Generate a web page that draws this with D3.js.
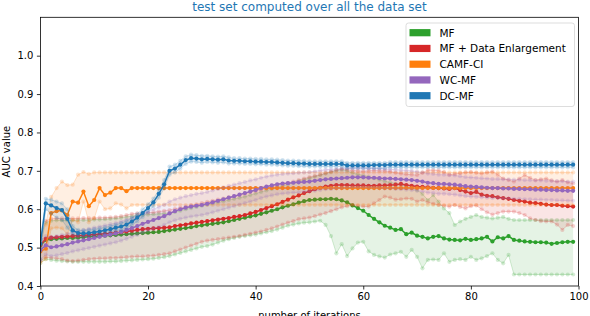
<!DOCTYPE html>
<html>
<head>
<meta charset="utf-8">
<script src="https://cdn.jsdelivr.net/npm/d3@7"></script>
<style>
  body { margin: 0; background: #fff; }
  svg { font-family: "DejaVu Sans", sans-serif; display: block; }
</style>
</head>
<body>
<svg id="chart" width="590" height="316"></svg>
<script>
'use strict';

var iterations = d3.range(100);

// MF
var mfMean = [0.505, 0.520, 0.522, 0.523, 0.524, 0.525, 0.525, 0.526, 0.527, 0.528,
  0.529, 0.530, 0.531, 0.532, 0.533, 0.534, 0.535, 0.536, 0.537, 0.538,
  0.539, 0.540, 0.541, 0.543, 0.545, 0.547, 0.549, 0.551, 0.553, 0.556,
  0.558, 0.560, 0.562, 0.564, 0.566, 0.569, 0.572, 0.575, 0.578, 0.581,
  0.584, 0.588, 0.592, 0.596, 0.600, 0.605, 0.609, 0.613, 0.617, 0.621,
  0.624, 0.625, 0.626, 0.626, 0.627, 0.626, 0.623, 0.618, 0.610, 0.603,
  0.596, 0.585, 0.575, 0.566, 0.557, 0.552, 0.546, 0.548, 0.535, 0.539,
  0.531, 0.528, 0.524, 0.528, 0.530, 0.524, 0.521, 0.520, 0.519, 0.523,
  0.520, 0.522, 0.524, 0.528, 0.516, 0.527, 0.524, 0.530, 0.520, 0.518,
  0.516, 0.515, 0.514, 0.514, 0.513, 0.510, 0.512, 0.514, 0.515, 0.515];
var mfLow = [0.460, 0.470, 0.468, 0.466, 0.465, 0.464, 0.463, 0.463, 0.463, 0.463,
  0.463, 0.463, 0.463, 0.464, 0.464, 0.465, 0.466, 0.467, 0.468, 0.469,
  0.470, 0.471, 0.473, 0.475, 0.478, 0.482, 0.486, 0.490, 0.494, 0.498,
  0.502, 0.504, 0.508, 0.513, 0.518, 0.522, 0.525, 0.528, 0.530, 0.532,
  0.534, 0.537, 0.540, 0.543, 0.547, 0.552, 0.557, 0.560, 0.563, 0.565,
  0.566, 0.568, 0.570, 0.559, 0.530, 0.485, 0.509, 0.478, 0.498, 0.513,
  0.515, 0.490, 0.481, 0.477, 0.474, 0.482, 0.485, 0.489, 0.476, 0.494,
  0.476, 0.446, 0.468, 0.469, 0.468, 0.485, 0.463, 0.468, 0.470, 0.468,
  0.476, 0.468, 0.472, 0.478, 0.485, 0.468, 0.459, 0.481, 0.430, 0.430,
  0.430, 0.430, 0.430, 0.430, 0.430, 0.430, 0.430, 0.430, 0.430, 0.430];
var mfHigh = [0.530, 0.565, 0.570, 0.571, 0.571, 0.571, 0.571, 0.572, 0.572, 0.572,
  0.573, 0.573, 0.574, 0.575, 0.576, 0.578, 0.580, 0.582, 0.584, 0.585,
  0.586, 0.587, 0.588, 0.589, 0.590, 0.593, 0.596, 0.600, 0.603, 0.606,
  0.609, 0.612, 0.615, 0.618, 0.621, 0.624, 0.627, 0.630, 0.633, 0.637,
  0.641, 0.645, 0.649, 0.653, 0.657, 0.661, 0.665, 0.669, 0.673, 0.677,
  0.681, 0.685, 0.689, 0.693, 0.697, 0.701, 0.703, 0.700, 0.695, 0.691,
  0.688, 0.685, 0.681, 0.677, 0.673, 0.670, 0.667, 0.664, 0.660, 0.655,
  0.650, 0.640, 0.624, 0.637, 0.620, 0.602, 0.590, 0.559, 0.568, 0.575,
  0.580, 0.585, 0.580, 0.578, 0.576, 0.578, 0.580, 0.575, 0.572, 0.572,
  0.572, 0.572, 0.572, 0.572, 0.572, 0.572, 0.572, 0.572, 0.572, 0.572];

// MF + Data Enlargement
var mfdeMean = [0.507, 0.523, 0.526, 0.527, 0.528, 0.529, 0.530, 0.531, 0.532, 0.533,
  0.534, 0.535, 0.536, 0.537, 0.539, 0.540, 0.542, 0.544, 0.546, 0.548,
  0.549, 0.550, 0.551, 0.552, 0.553, 0.556, 0.558, 0.560, 0.563, 0.565,
  0.567, 0.569, 0.571, 0.573, 0.575, 0.577, 0.580, 0.582, 0.585, 0.589,
  0.593, 0.598, 0.603, 0.608, 0.613, 0.619, 0.625, 0.631, 0.636, 0.642,
  0.647, 0.652, 0.656, 0.659, 0.661, 0.663, 0.663, 0.663, 0.662, 0.662,
  0.662, 0.661, 0.661, 0.662, 0.662, 0.663, 0.664, 0.666, 0.663, 0.661,
  0.659, 0.658, 0.657, 0.656, 0.655, 0.654, 0.653, 0.655, 0.650, 0.646,
  0.642, 0.645, 0.638, 0.635, 0.634, 0.631, 0.629, 0.627, 0.624, 0.622,
  0.620, 0.617, 0.616, 0.614, 0.612, 0.611, 0.611, 0.609, 0.608, 0.607];
var mfdeLow = [0.465, 0.475, 0.473, 0.472, 0.470, 0.466, 0.465, 0.466, 0.468, 0.470,
  0.471, 0.472, 0.472, 0.473, 0.473, 0.474, 0.475, 0.476, 0.477, 0.477,
  0.478, 0.479, 0.481, 0.483, 0.485, 0.490, 0.495, 0.500, 0.505, 0.510,
  0.515, 0.518, 0.520, 0.522, 0.524, 0.526, 0.528, 0.530, 0.533, 0.536,
  0.539, 0.542, 0.546, 0.550, 0.555, 0.560, 0.565, 0.569, 0.574, 0.576,
  0.578, 0.582, 0.586, 0.590, 0.595, 0.600, 0.605, 0.608, 0.611, 0.609,
  0.607, 0.607, 0.615, 0.624, 0.633, 0.630, 0.625, 0.626, 0.628, 0.627,
  0.620, 0.624, 0.618, 0.614, 0.611, 0.609, 0.607, 0.611, 0.606, 0.602,
  0.608, 0.610, 0.600, 0.592, 0.586, 0.590, 0.594, 0.594, 0.594, 0.590,
  0.585, 0.576, 0.572, 0.569, 0.568, 0.568, 0.560, 0.546, 0.559, 0.556];
var mfdeHigh = [0.530, 0.570, 0.575, 0.576, 0.576, 0.576, 0.576, 0.576, 0.577, 0.577,
  0.577, 0.578, 0.578, 0.579, 0.580, 0.582, 0.585, 0.588, 0.589, 0.590,
  0.591, 0.592, 0.594, 0.596, 0.598, 0.601, 0.604, 0.607, 0.610, 0.613,
  0.616, 0.619, 0.622, 0.625, 0.628, 0.631, 0.634, 0.637, 0.641, 0.645,
  0.648, 0.651, 0.654, 0.658, 0.662, 0.665, 0.668, 0.672, 0.676, 0.680,
  0.684, 0.687, 0.690, 0.694, 0.698, 0.702, 0.705, 0.703, 0.701, 0.700,
  0.699, 0.700, 0.701, 0.700, 0.700, 0.698, 0.695, 0.693, 0.691, 0.690,
  0.689, 0.695, 0.702, 0.702, 0.701, 0.697, 0.690, 0.692, 0.694, 0.696,
  0.697, 0.695, 0.693, 0.696, 0.698, 0.690, 0.680, 0.676, 0.672, 0.680,
  0.689, 0.682, 0.676, 0.678, 0.680, 0.675, 0.672, 0.676, 0.670, 0.667];

// CAMF-CI
var camfMean = [0.490, 0.497, 0.590, 0.595, 0.597, 0.585, 0.620, 0.617, 0.646, 0.608,
  0.624, 0.655, 0.637, 0.643, 0.655, 0.655, 0.647, 0.655, 0.655, 0.655,
  0.655, 0.655, 0.655, 0.655, 0.655, 0.655, 0.655, 0.655, 0.655, 0.655,
  0.655, 0.655, 0.655, 0.655, 0.655, 0.655, 0.655, 0.655, 0.655, 0.655,
  0.655, 0.655, 0.655, 0.655, 0.655, 0.655, 0.655, 0.655, 0.655, 0.655,
  0.655, 0.655, 0.655, 0.655, 0.655, 0.655, 0.655, 0.655, 0.655, 0.655,
  0.655, 0.655, 0.655, 0.655, 0.655, 0.655, 0.655, 0.655, 0.655, 0.655,
  0.655, 0.655, 0.655, 0.655, 0.655, 0.655, 0.655, 0.655, 0.655, 0.655,
  0.655, 0.655, 0.655, 0.655, 0.655, 0.655, 0.655, 0.655, 0.655, 0.655,
  0.655, 0.655, 0.655, 0.655, 0.655, 0.655, 0.655, 0.655, 0.655, 0.655];
var camfLow = [0.460, 0.470, 0.550, 0.552, 0.550, 0.535, 0.572, 0.566, 0.620, 0.566,
  0.576, 0.620, 0.600, 0.602, 0.615, 0.612, 0.602, 0.611, 0.611, 0.611,
  0.611, 0.611, 0.611, 0.611, 0.611, 0.611, 0.611, 0.611, 0.611, 0.611,
  0.611, 0.611, 0.611, 0.611, 0.611, 0.611, 0.611, 0.611, 0.611, 0.611,
  0.611, 0.611, 0.611, 0.611, 0.611, 0.611, 0.611, 0.611, 0.611, 0.611,
  0.611, 0.611, 0.611, 0.611, 0.611, 0.611, 0.611, 0.611, 0.611, 0.611,
  0.611, 0.611, 0.611, 0.611, 0.611, 0.611, 0.611, 0.611, 0.611, 0.611,
  0.611, 0.611, 0.611, 0.611, 0.611, 0.611, 0.611, 0.611, 0.611, 0.611,
  0.611, 0.611, 0.611, 0.611, 0.611, 0.611, 0.611, 0.611, 0.611, 0.611,
  0.611, 0.611, 0.611, 0.611, 0.611, 0.611, 0.611, 0.611, 0.611, 0.611];
var camfHigh = [0.520, 0.560, 0.632, 0.655, 0.672, 0.663, 0.664, 0.690, 0.697, 0.692,
  0.696, 0.696, 0.696, 0.696, 0.696, 0.696, 0.696, 0.696, 0.696, 0.696,
  0.696, 0.696, 0.696, 0.696, 0.696, 0.696, 0.696, 0.696, 0.696, 0.696,
  0.696, 0.696, 0.696, 0.696, 0.696, 0.696, 0.696, 0.696, 0.696, 0.696,
  0.696, 0.696, 0.696, 0.696, 0.696, 0.696, 0.696, 0.696, 0.696, 0.696,
  0.696, 0.696, 0.696, 0.696, 0.696, 0.696, 0.696, 0.696, 0.696, 0.696,
  0.696, 0.696, 0.696, 0.696, 0.696, 0.696, 0.696, 0.696, 0.696, 0.696,
  0.696, 0.696, 0.696, 0.696, 0.696, 0.696, 0.696, 0.696, 0.696, 0.696,
  0.696, 0.696, 0.696, 0.696, 0.696, 0.696, 0.696, 0.696, 0.696, 0.696,
  0.696, 0.696, 0.696, 0.696, 0.696, 0.696, 0.696, 0.696, 0.696, 0.696];

// WC-MF
var wcMean = [0.494, 0.506, 0.501, 0.503, 0.506, 0.509, 0.513, 0.516, 0.519, 0.522,
  0.525, 0.528, 0.531, 0.534, 0.537, 0.541, 0.546, 0.551, 0.556, 0.562,
  0.567, 0.572, 0.577, 0.582, 0.589, 0.595, 0.600, 0.604, 0.607, 0.609,
  0.611, 0.614, 0.618, 0.622, 0.626, 0.630, 0.634, 0.638, 0.642, 0.646,
  0.650, 0.655, 0.659, 0.662, 0.665, 0.667, 0.668, 0.669, 0.670, 0.671,
  0.672, 0.674, 0.676, 0.678, 0.679, 0.680, 0.681, 0.682, 0.683, 0.683,
  0.683, 0.682, 0.682, 0.681, 0.680, 0.680, 0.679, 0.678, 0.677, 0.676,
  0.674, 0.672, 0.669, 0.668, 0.666, 0.666, 0.665, 0.664, 0.662, 0.660,
  0.659, 0.658, 0.657, 0.656, 0.655, 0.655, 0.654, 0.654, 0.653, 0.653,
  0.652, 0.652, 0.651, 0.651, 0.650, 0.650, 0.649, 0.649, 0.648, 0.648];
var wcLow = [0.468, 0.482, 0.478, 0.480, 0.483, 0.486, 0.490, 0.493, 0.496, 0.499,
  0.502, 0.505, 0.508, 0.511, 0.514, 0.518, 0.523, 0.528, 0.533, 0.539,
  0.544, 0.549, 0.554, 0.559, 0.566, 0.571, 0.575, 0.578, 0.581, 0.583,
  0.585, 0.588, 0.592, 0.596, 0.600, 0.604, 0.608, 0.612, 0.616, 0.620,
  0.624, 0.629, 0.633, 0.636, 0.639, 0.641, 0.642, 0.643, 0.644, 0.645,
  0.646, 0.648, 0.650, 0.652, 0.653, 0.654, 0.655, 0.656, 0.657, 0.657,
  0.657, 0.656, 0.656, 0.655, 0.654, 0.654, 0.653, 0.652, 0.651, 0.650,
  0.648, 0.646, 0.643, 0.642, 0.640, 0.640, 0.639, 0.638, 0.636, 0.634,
  0.633, 0.632, 0.631, 0.630, 0.629, 0.629, 0.628, 0.628, 0.627, 0.627,
  0.626, 0.626, 0.625, 0.625, 0.624, 0.624, 0.623, 0.623, 0.622, 0.622];
var wcHigh = [0.520, 0.530, 0.528, 0.530, 0.533, 0.536, 0.540, 0.543, 0.546, 0.549,
  0.552, 0.555, 0.558, 0.561, 0.564, 0.568, 0.573, 0.578, 0.583, 0.589,
  0.594, 0.600, 0.606, 0.612, 0.620, 0.626, 0.630, 0.634, 0.637, 0.640,
  0.642, 0.645, 0.649, 0.653, 0.657, 0.661, 0.664, 0.668, 0.671, 0.675,
  0.678, 0.682, 0.685, 0.688, 0.690, 0.692, 0.693, 0.694, 0.695, 0.696,
  0.697, 0.699, 0.701, 0.703, 0.704, 0.705, 0.706, 0.707, 0.708, 0.708,
  0.708, 0.707, 0.707, 0.706, 0.705, 0.704, 0.703, 0.702, 0.701, 0.700,
  0.698, 0.696, 0.693, 0.692, 0.690, 0.690, 0.689, 0.688, 0.686, 0.684,
  0.683, 0.682, 0.681, 0.680, 0.679, 0.679, 0.678, 0.678, 0.677, 0.677,
  0.676, 0.676, 0.675, 0.675, 0.674, 0.674, 0.673, 0.673, 0.672, 0.672];

// DC-MF
var dcMean = [0.510, 0.615, 0.610, 0.603, 0.598, 0.575, 0.545, 0.538, 0.537, 0.538,
  0.540, 0.542, 0.545, 0.548, 0.552, 0.555, 0.560, 0.568, 0.578, 0.590,
  0.603, 0.618, 0.640, 0.665, 0.700, 0.706, 0.716, 0.728, 0.733, 0.732,
  0.730, 0.731, 0.730, 0.729, 0.730, 0.727, 0.726, 0.726, 0.725, 0.725,
  0.724, 0.724, 0.723, 0.723, 0.722, 0.721, 0.720, 0.720, 0.719, 0.719,
  0.718, 0.718, 0.718, 0.718, 0.718, 0.718, 0.718, 0.714, 0.714, 0.714,
  0.714, 0.714, 0.715, 0.715, 0.715, 0.716, 0.716, 0.716, 0.716, 0.716,
  0.716, 0.716, 0.716, 0.716, 0.716, 0.716, 0.716, 0.716, 0.716, 0.716,
  0.716, 0.716, 0.716, 0.716, 0.716, 0.716, 0.716, 0.716, 0.716, 0.716,
  0.716, 0.716, 0.716, 0.716, 0.716, 0.716, 0.716, 0.716, 0.716, 0.716];
var dcLow = [0.470, 0.600, 0.588, 0.578, 0.572, 0.552, 0.535, 0.530, 0.529, 0.530,
  0.532, 0.534, 0.537, 0.540, 0.544, 0.546, 0.551, 0.559, 0.568, 0.580,
  0.593, 0.608, 0.630, 0.654, 0.690, 0.696, 0.706, 0.718, 0.724, 0.723,
  0.721, 0.723, 0.722, 0.721, 0.722, 0.719, 0.719, 0.719, 0.718, 0.718,
  0.717, 0.717, 0.716, 0.716, 0.715, 0.714, 0.713, 0.713, 0.712, 0.712,
  0.711, 0.711, 0.711, 0.711, 0.711, 0.711, 0.711, 0.707, 0.707, 0.707,
  0.707, 0.707, 0.707, 0.707, 0.707, 0.709, 0.709, 0.709, 0.709, 0.709,
  0.709, 0.709, 0.709, 0.709, 0.709, 0.709, 0.709, 0.709, 0.709, 0.709,
  0.709, 0.709, 0.709, 0.709, 0.709, 0.709, 0.709, 0.709, 0.709, 0.709,
  0.709, 0.709, 0.709, 0.709, 0.709, 0.709, 0.709, 0.709, 0.709, 0.709];
var dcHigh = [0.520, 0.627, 0.625, 0.620, 0.615, 0.600, 0.556, 0.546, 0.545, 0.546,
  0.548, 0.550, 0.553, 0.556, 0.560, 0.564, 0.569, 0.577, 0.588, 0.600,
  0.613, 0.628, 0.650, 0.676, 0.711, 0.716, 0.726, 0.738, 0.742, 0.741,
  0.739, 0.739, 0.738, 0.737, 0.738, 0.735, 0.733, 0.733, 0.732, 0.732,
  0.731, 0.731, 0.730, 0.730, 0.729, 0.728, 0.727, 0.727, 0.726, 0.726,
  0.725, 0.725, 0.725, 0.725, 0.725, 0.725, 0.725, 0.721, 0.721, 0.721,
  0.721, 0.721, 0.721, 0.721, 0.721, 0.723, 0.723, 0.723, 0.723, 0.723,
  0.723, 0.723, 0.723, 0.723, 0.723, 0.723, 0.723, 0.723, 0.723, 0.723,
  0.723, 0.723, 0.723, 0.723, 0.723, 0.723, 0.723, 0.723, 0.723, 0.723,
  0.723, 0.723, 0.723, 0.723, 0.723, 0.723, 0.723, 0.723, 0.723, 0.723];

var seriesNames = ['MF', 'MF + Data Enlargement', 'CAMF-CI', 'WC-MF', 'DC-MF'];
var seriesColors = ['#2ca02c', '#d62728', '#ff7f0e', '#9467bd', '#1f77b4'];
var xTicks = [0, 20, 40, 60, 80, 100];
var yTicks = [0.4, 0.5, 0.6, 0.7, 0.8, 0.9, 1.0];

var series = [
  { mean: mfMean, low: mfLow, high: mfHigh },
  { mean: mfdeMean, low: mfdeLow, high: mfdeHigh },
  { mean: camfMean, low: camfLow, high: camfHigh },
  { mean: wcMean, low: wcLow, high: wcHigh },
  { mean: dcMean, low: dcLow, high: dcHigh }
].map(function (s, i) {
  s.name = seriesNames[i];
  s.color = seriesColors[i];
  return s;
});

var svg = d3.select('#chart');
var plotBox = { left: 40.4, right: 578.5, top: 17.3, bottom: 286 };

var x = d3.scaleLinear().domain([0, 100]).range([plotBox.left, plotBox.right]);
var y = d3.scaleLinear().domain([0.4, 1.1]).range([plotBox.bottom, plotBox.top]);

svg.append('rect').attr('width', 590).attr('height', 316).attr('fill', '#fff');

svg.append('defs').append('clipPath').attr('id', 'plot-clip')
  .append('rect')
  .attr('x', plotBox.left).attr('y', plotBox.top)
  .attr('width', plotBox.right - plotBox.left)
  .attr('height', plotBox.bottom - plotBox.top);

var plot = svg.append('g').attr('clip-path', 'url(#plot-clip)');

function drawLine(g, values, color, alpha, width) {
  var line = d3.line()
    .x(function (d, i) { return x(iterations[i]); })
    .y(function (d) { return y(d); });
  g.append('path').datum(values)
    .attr('d', line)
    .attr('fill', 'none')
    .attr('stroke', color)
    .attr('stroke-opacity', alpha)
    .attr('stroke-width', width);
  g.append('g').selectAll('circle').data(values).enter().append('circle')
    .attr('cx', function (d, i) { return x(iterations[i]); })
    .attr('cy', function (d) { return y(d); })
    .attr('r', 2.1)
    .attr('fill', color)
    .attr('fill-opacity', alpha);
}

series.forEach(function (s) {
  var g = plot.append('g');
  var band = d3.area()
    .x(function (d, i) { return x(iterations[i]); })
    .y0(function (d, i) { return y(s.low[i]); })
    .y1(function (d, i) { return y(s.high[i]); });
  g.append('path').datum(s.mean)
    .attr('d', band)
    .attr('fill', s.color)
    .attr('fill-opacity', 0.12);
  drawLine(g, s.low, s.color, 0.2, 1);
  drawLine(g, s.high, s.color, 0.2, 1);
  drawLine(g, s.mean, s.color, 1, 1.5);
});

// Axes

var xAxis = svg.append('g')
  .attr('transform', 'translate(0,' + plotBox.bottom + ')')
  .call(d3.axisBottom(x).tickValues(xTicks).tickSize(3.5).tickPadding(3.5));
var yAxis = svg.append('g')
  .attr('transform', 'translate(' + plotBox.left + ',0)')
  .call(d3.axisLeft(y).tickValues(yTicks).tickFormat(d3.format('.1f')).tickSize(3.5).tickPadding(3.5));

[xAxis, yAxis].forEach(function (a) {
  a.select('.domain').remove();
  a.selectAll('text').attr('font-size', 10).attr('font-family', '"DejaVu Sans", sans-serif').attr('fill', '#000');
  a.selectAll('line').attr('stroke', '#000').attr('stroke-width', 0.8);
});

svg.append('rect')
  .attr('x', plotBox.left).attr('y', plotBox.top)
  .attr('width', plotBox.right - plotBox.left)
  .attr('height', plotBox.bottom - plotBox.top)
  .attr('fill', 'none')
  .attr('stroke', '#000')
  .attr('stroke-width', 0.8);

// Labels

svg.append('text')
  .attr('x', (plotBox.left + plotBox.right) / 2).attr('y', 11)
  .attr('text-anchor', 'middle')
  .attr('font-size', 12)
  .attr('fill', '#1f77b4')
  .text('test set computed over all the data set');

svg.append('text')
  .attr('x', (plotBox.left + plotBox.right) / 2).attr('y', 318.5)
  .attr('text-anchor', 'middle')
  .attr('font-size', 10)
  .text('number of iterations');

svg.append('text')
  .attr('transform', 'translate(10,' + (plotBox.top + plotBox.bottom) / 2 + ') rotate(-90)')
  .attr('text-anchor', 'middle')
  .attr('font-size', 10)
  .text('AUC value');

// Legend

var legend = svg.append('g');
legend.append('rect')
  .attr('x', 406).attr('y', 23)
  .attr('width', 168.5).attr('height', 83.5)
  .attr('rx', 2.5)
  .attr('fill', '#fff').attr('fill-opacity', 0.8)
  .attr('stroke', '#d4d4d4').attr('stroke-width', 0.8);

series.forEach(function (s, i) {
  var cy = 32.7 + i * 15.75;
  legend.append('rect')
    .attr('x', 409.5).attr('y', cy - 3.6)
    .attr('width', 21).attr('height', 7.2)
    .attr('fill', s.color);
  legend.append('text')
    .attr('x', 439.5).attr('y', cy + 3.8)
    .attr('font-size', 10.5)
    .text(s.name);
});
</script>
</body>
</html>
